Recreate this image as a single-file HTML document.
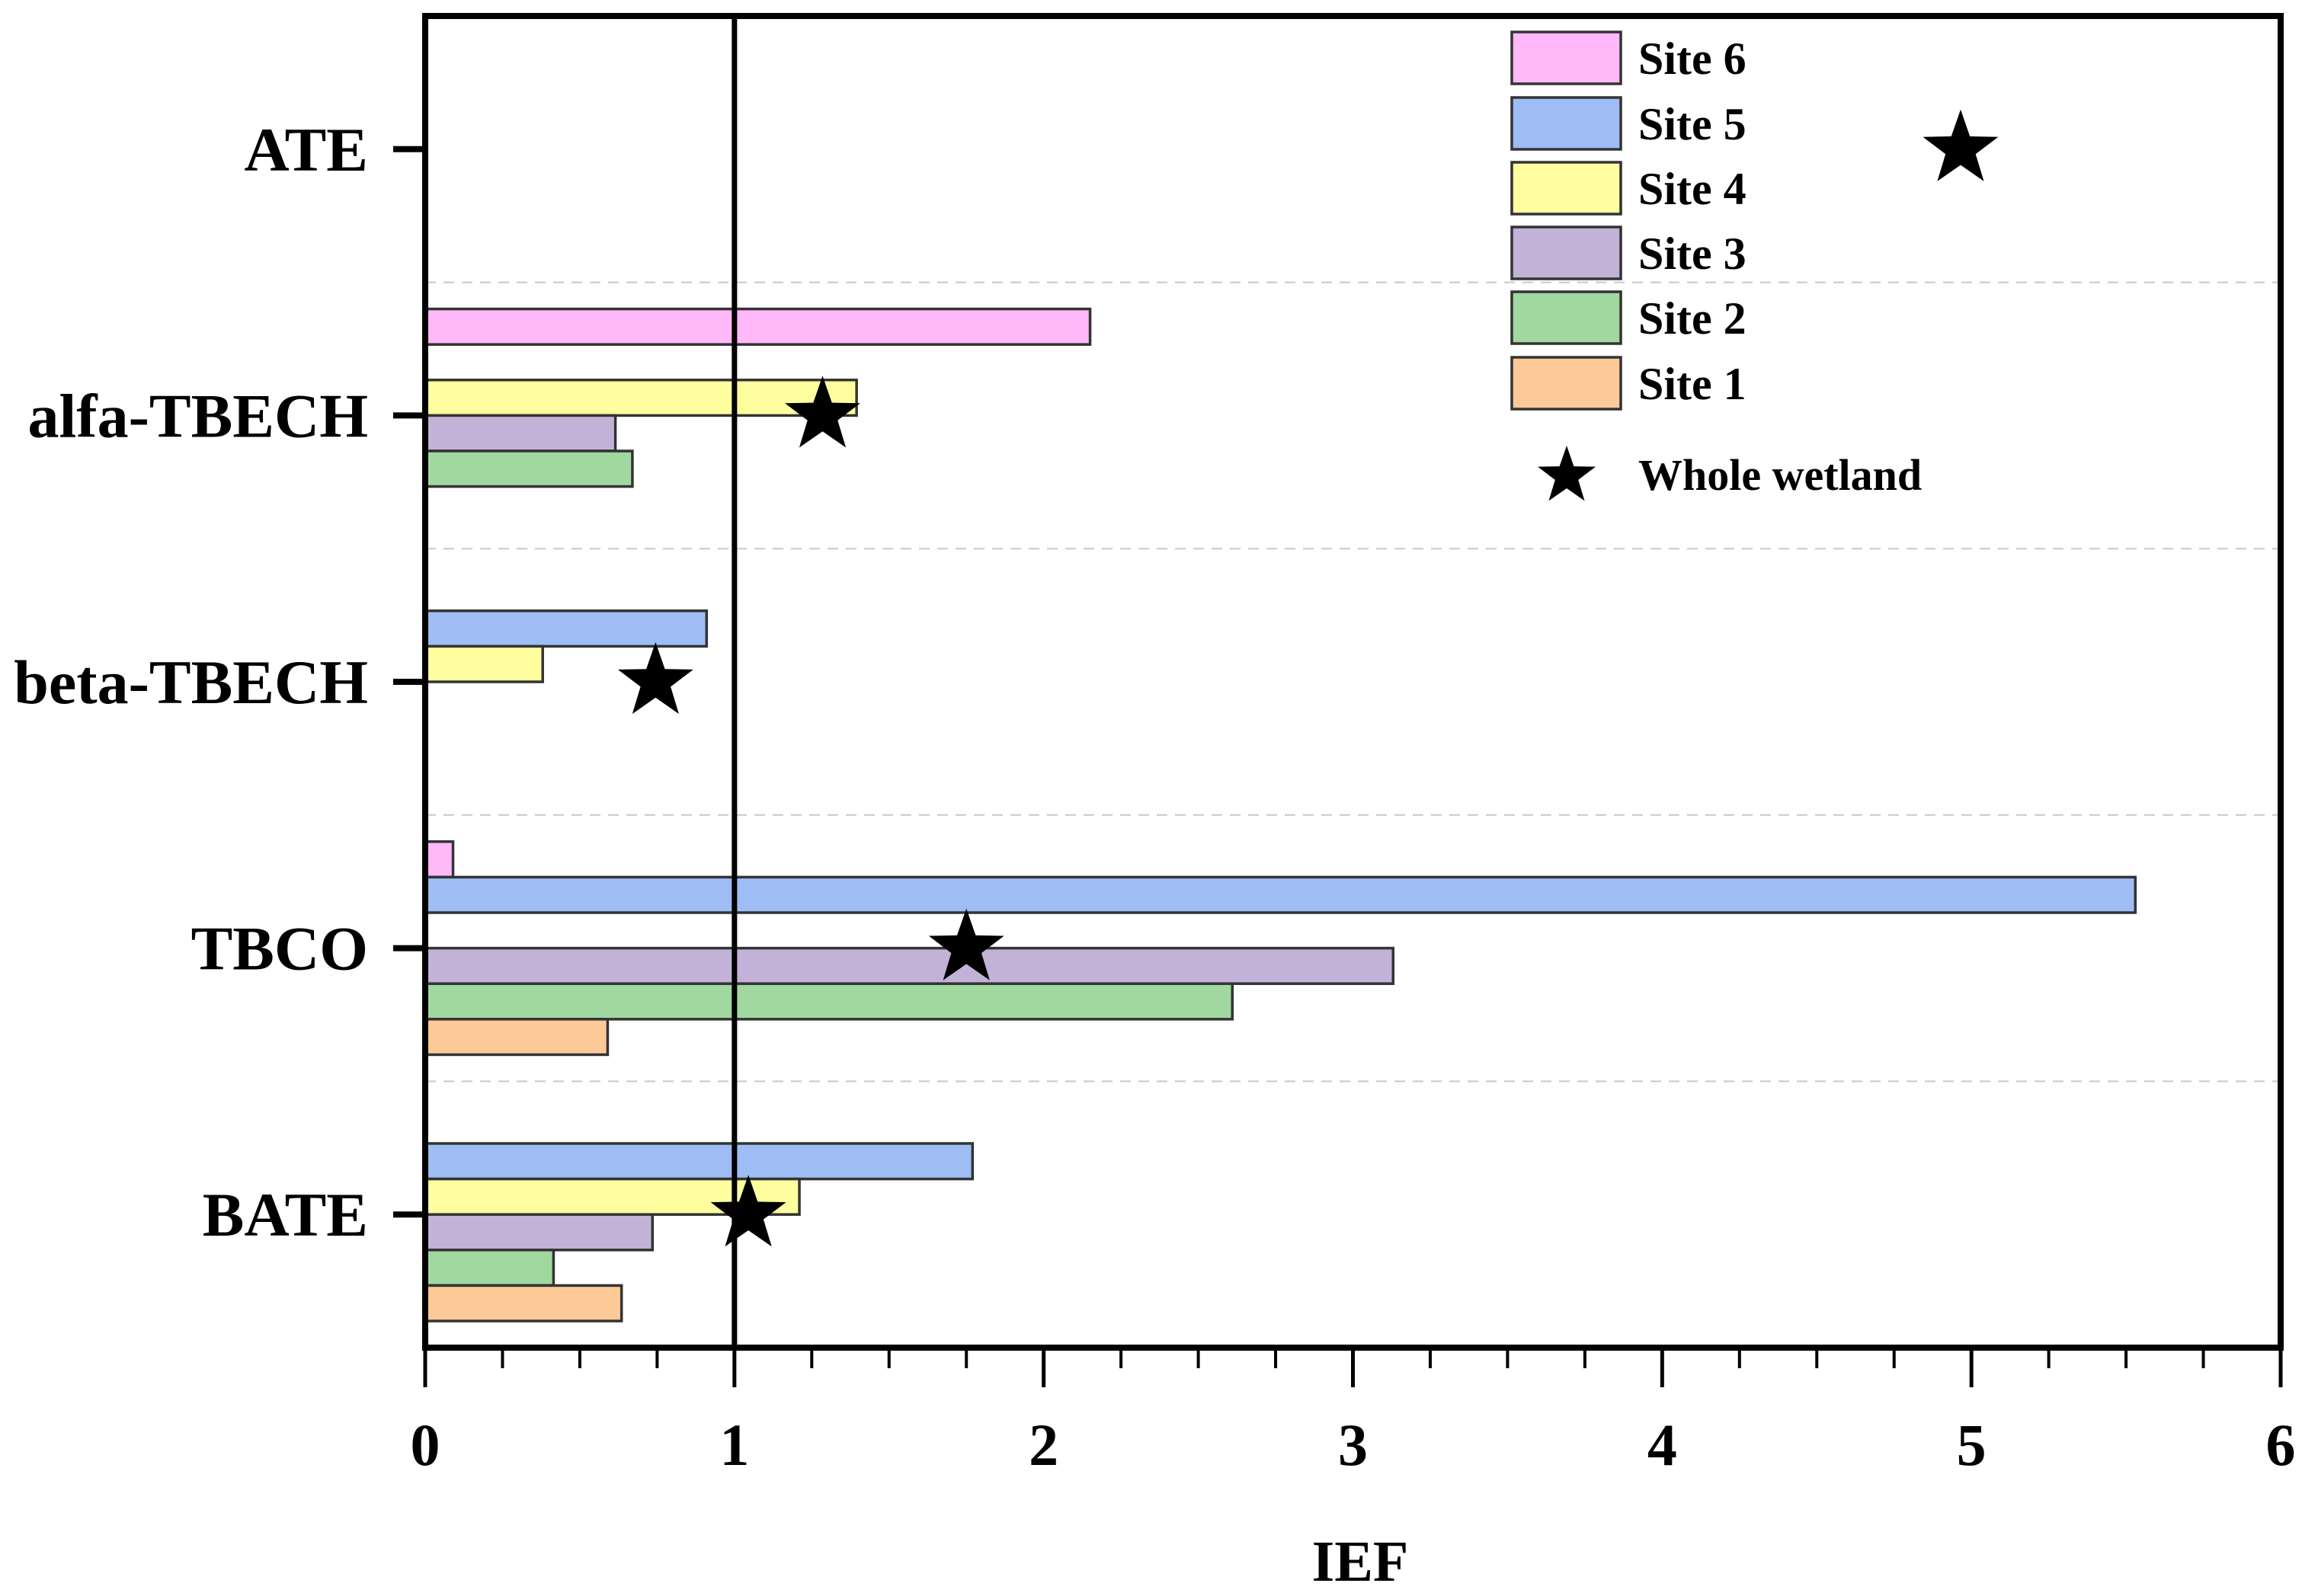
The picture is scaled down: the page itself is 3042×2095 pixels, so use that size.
<!DOCTYPE html>
<html><head><meta charset="utf-8"><style>
html,body{margin:0;padding:0;background:#fff;}
svg{display:block;font-family:"Liberation Serif",serif;font-weight:bold;}
</style></head><body>
<svg id="chart" width="3042" height="2095" viewBox="0 0 3042 2095" xmlns="http://www.w3.org/2000/svg">
<g id="grid"></g>
<g id="bars"></g>
<g id="frame"></g>
<g id="stars"></g>
<g id="axes"></g>
<g id="legend"></g>
</svg>
<script>
const categories = ["BATE", "TBCO", "beta-TBECH", "alfa-TBECH", "ATE"];
const seriesNames = ["Site 6", "Site 5", "Site 4", "Site 3", "Site 2", "Site 1"];
const site6 = [null, 0.09, null, 2.15, null];
const site5 = [1.77, 5.53, 0.91, null, null];
const site4 = [1.21, null, 0.38, 1.395, null];
const site3 = [0.735, 3.13, null, 0.615, null];
const site2 = [0.415, 2.61, null, 0.67, null];
const site1 = [0.635, 0.59, null, null, null];
const wholeWetland = [1.045, 1.75, 0.745, 1.285, 4.965];
const xTicks = [0, 1, 2, 3, 4, 5, 6];
const seriesValues = [site6, site5, site4, site3, site2, site1];
const colors = ["#FFB8F8", "#9DBDF4", "#FFFF9F", "#C3B2D8", "#A0D8A0", "#FCC997"];

const NS = "http://www.w3.org/2000/svg";
const X0 = 558, X1 = 2993, Y0 = 1769, Y1 = 21;
const xs = v => X0 + (v - 0) / 6 * (X1 - X0);
const ys = i => Y0 - (i + 0.5) / 5 * (Y0 - Y1);
const band = (Y0 - Y1) / 5;
const barH = band * 0.8 / 6;
function mk(tag, attrs, parent) {
  const e = document.createElementNS(NS, tag);
  for (const k in attrs) e.setAttribute(k, attrs[k]);
  parent.appendChild(e);
  return e;
}
function starPts(cx, cy, R) {
  const r = R * 0.4; let p = [];
  for (let k = 0; k < 10; k++) {
    const a = -Math.PI / 2 + k * Math.PI / 5, rr = k % 2 ? r : R;
    p.push((cx + rr * Math.cos(a)).toFixed(1) + "," + (cy + rr * Math.sin(a)).toFixed(1));
  }
  return p.join(" ");
}
const grid = document.getElementById("grid");
for (let i = 0; i < categories.length - 1; i++) {
  const y = ys(i) - band / 2;
  const l = mk("line", {x1: X0, x2: X1, y1: y, y2: y, stroke: "#c8c8c8", "stroke-width": 2, "stroke-dasharray": "14,10"}, grid);
  
  
}
const bars = document.getElementById("bars");
seriesValues.forEach((arr, s) => {
  arr.forEach((v, i) => {
    if (v === null) return;
    const yc = ys(i) + (s - 2.5) * barH;
    const r = mk("rect", {x: X0, y: yc - barH / 2, width: xs(v) - X0, height: barH, fill: colors[s], stroke: "#333", "stroke-width": 3.5}, bars);
    
    
  });
});
const frame = document.getElementById("frame");
const ref = mk("line", {x1: xs(1), x2: xs(1), y1: Y1, y2: Y0, stroke: "#000", "stroke-width": 7}, frame);


const box = mk("rect", {x: X0, y: Y1, width: X1 - X0, height: Y0 - Y1, fill: "none", stroke: "#000", "stroke-width": 8}, frame);


const stars = document.getElementById("stars");
wholeWetland.forEach((v, i) => {
  const p = mk("polygon", {points: starPts(xs(v), ys(i), 52), fill: "#000"}, stars);
  
  
});
const axes = document.getElementById("axes");
for (let k = 0; k <= 24; k++) {
  const v = k * 0.25, x = xs(v), major = k % 4 === 0;
  const t = mk("line", {x1: x, x2: x, y1: Y0, y2: major ? 1821 : 1796, stroke: "#000", "stroke-width": major ? 5 : 4}, axes);
  
  
}
xTicks.forEach(v => {
  const t = mk("text", {x: xs(v), y: 1923, "text-anchor": "middle", "font-size": 78}, axes);
  t.textContent = v;
  
  
});
const xt = mk("text", {x: 1785, y: 2075, "text-anchor": "middle", "font-size": 76}, axes);
xt.textContent = "IEF";


categories.forEach((c, i) => {
  const tk = mk("line", {x1: 516, x2: X0, y1: ys(i), y2: ys(i), stroke: "#000", "stroke-width": 8}, axes);
  
  
  const t = mk("text", {x: 483, y: ys(i) + 28, "text-anchor": "end", "font-size": 82}, axes);
  t.textContent = c;
  
  
});
const legend = document.getElementById("legend");
const rowY = [76, 162, 247, 332, 417, 503];
seriesNames.forEach((n, s) => {
  const r = mk("rect", {x: 1984, y: rowY[s] - 34, width: 143, height: 68, fill: colors[s], stroke: "#333", "stroke-width": 3.5}, legend);
  
  
  const t = mk("text", {x: 2150, y: rowY[s] + 21, "font-size": 60}, legend);
  t.textContent = n;
  
  
});
const ls = mk("polygon", {points: starPts(2056, 625, 40), fill: "#000"}, legend);


const lt = mk("text", {x: 2150, y: 643, "font-size": 58}, legend);
lt.textContent = "Whole wetland";


</script>
</body></html>
